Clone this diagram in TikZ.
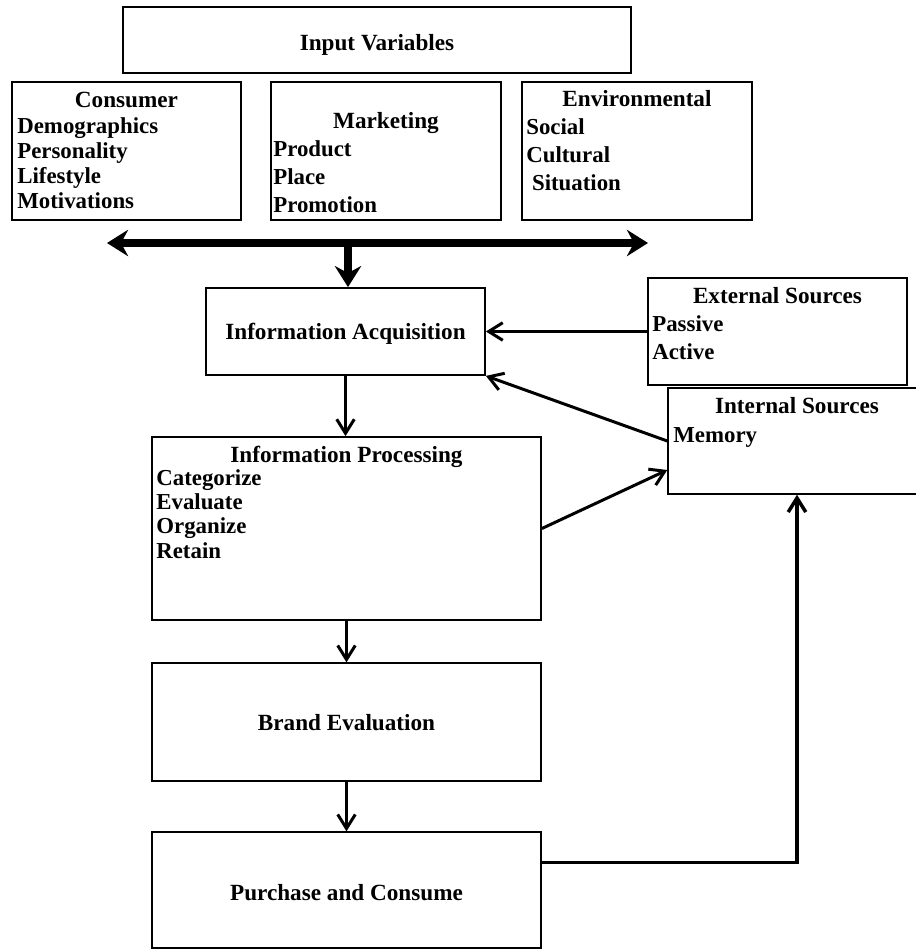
\documentclass[tikz,border=0pt]{standalone}
\usepackage{fontspec}
\setmainfont{Liberation Serif}
\usepackage{tikz}
\usetikzlibrary{arrows.meta,calc,fit,positioning}
\tikzset{box/.style={draw,line width=1pt,inner sep=0pt},
	title/.style={anchor=base,inner sep=0pt,font=\fontsize{13.2}{15.9}\selectfont\bfseries},
	% lists sit on the baseline of their last line
	list/.style={anchor=base west,inner sep=0pt,align=left,font=\fontsize{13}{#1}\selectfont\bfseries},
	thin arrow/.style={-{Straight Barb[length=8pt,width=10pt]},line width=1.7pt},
	fat arrow/.style={line width=4.2pt}}

\begin{document}
\begin{tikzpicture}[x=0.02cm,y=-0.02cm,>={Stealth[length=12pt,width=15pt,inset=4pt]}]
	\useasboundingbox (0,0) rectangle (916,951);
	
	% input variables
	\node[box,fit={(123,7) (631,73)}] (inp) {};
	\node[title] (inpt) at (377,50) {Input Variables};
	
	\node[box,fit={(12,82) (241,220)}] (cons) {};
	\node[title] (const) at (cons.center |- 0,107) {Consumer};
	\node[list=14.2pt] (consl) at (17,208) {Demographics\\Personality\\Lifestyle\\Motivations};
	
	\node[box,fit={(271,82) (501,220)}] (mkt) {};
	\node[title] (mktt) at (mkt.center |- 0,128) {Marketing};
	\node[list=15.9pt] (mktl) at (273,212) {Product\\Place\\Promotion};
	
	\node[box,fit={(522,82) (752,220)}] (env) {};
	\node[title] (envt) at (env.center |- 0,106) {Environmental};
	\node[list=15.9pt] (envl) at (526,190) {Social\\Cultural\\\ Situation};
	
	\coordinate (lft) at (107,243);
	\coordinate (rgt) at (648,243);
	\coordinate (hub) at (348,243);
	
	% sources
	\node[box,fit={(206,288) (485,375)}] (acq) {};
	\node[title] (acqt) at (acq.center |- 0,339) {Information Acquisition};
	
	\node[box,fit={(648,278) (907,385)}] (ext) {};
	\node[title] (extt) at (ext.center |- 0,303) {External Sources};
	\node[list=15.9pt] (extl) at (652,359) {Passive\\Active};
	
	\node[box,line width=0.8pt,fit={(668,388) (926,494)}] (int) {};
	\node[title] (intt) at (int.center |- 0,413) {Internal Sources};
	\node[list=15.9pt] (intl) at (673,442) {Memory};
	
	% processing chain
	\node[box,fit={(152,437) (541,620)}] (proc) {};
	\node[title] (proct) at (proc.center |- 0,462) {Information Processing};
	\node[list=13.7pt] (procl) at (156,558) {Categorize\\Evaluate\\Organize\\Retain};
	
	\node[box,line width=0.8pt,fit={(152,663) (541,781)}] (brand) {};
	\node[title] (brandt) at (brand.center |- 0,730) {Brand Evaluation};
	
	\node[box,line width=0.8pt,fit={(152,832) (541,948)}] (buy) {};
	\node[title] (buyt) at (buy.center |- 0,900) {Purchase and Consume};
	
	\draw[fat arrow,<->] (lft) -- (rgt);
	\draw[fat arrow,->] (hub) -- (hub |- acq.north);
	
	\path[thin arrow]
	(ext.west) edge (acq.east)
	(int.west) edge (acq.south east)
	(proc.east) edge ($(int.west)+(0,29)$)
	(acq.south) edge (acq.south |- proc.north)
	(proc.south) edge (brand.north)
	(brand.south) edge (buy.north)
	;
	
	\draw[thin arrow,line width=2pt] ($(buy.north east)+(0,31)$) -| (int.south);
\end{tikzpicture}
\end{document}
